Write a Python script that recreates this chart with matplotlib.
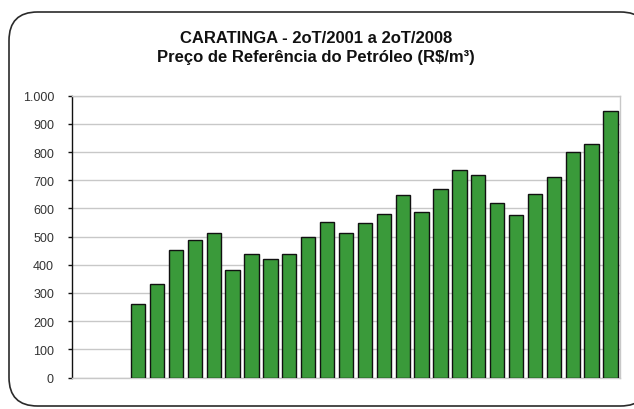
import matplotlib
matplotlib.use("Agg")
import matplotlib.pyplot as plt
import numpy as np
from matplotlib.patches import FancyBboxPatch
from matplotlib.ticker import FuncFormatter

# quarters 2oT/2001 .. 2oT/2008 (first three without production)
quarters = [f"{q}oT/{y}" for y in range(2001, 2009) for q in range(1, 5)][1:30]
prices = [np.nan, np.nan, np.nan,
          260, 332, 452, 487, 514, 381, 437, 419, 437, 497, 552, 514, 547,
          580, 646, 586, 669, 736, 719, 619, 575, 652, 713, 801, 828, 945]
y_ticks = list(range(0, 1001, 100))

title = "CARATINGA - 2oT/2001 a 2oT/2008\nPreço de Referência do Petróleo (R$/m³)"

plt.rcParams['font.family'] = ['Liberation Sans', 'DejaVu Sans']

fig = plt.figure(figsize=(6.34, 4.10), dpi=100)

# rounded frame around the chart
frame = FancyBboxPatch((9 / 634, 3 / 410), 640 / 634, 394 / 410,
                       boxstyle="round,pad=0,rounding_size=0.045",
                       transform=fig.transFigure, facecolor='white',
                       edgecolor='#2a2a2a', linewidth=1.2, zorder=-1,
                       mutation_aspect=634 / 410)
fig.patches.append(frame)

ax = fig.add_axes([72 / 634, 1 - 378.5 / 410, 548 / 634, 281.8 / 410])
ax.set_facecolor('none')

x = np.arange(len(quarters))
ax.bar(x, prices, width=0.76, color='#3a9a3a', edgecolor='#111111',
       linewidth=1.0, zorder=3)

ax.set_xlim(-0.5, len(quarters) - 0.5)
ax.set_ylim(0, 1000)
ax.set_yticks(y_ticks)
ax.yaxis.set_major_formatter(FuncFormatter(lambda v, p: f"{int(v):,}".replace(",", ".")))
ax.set_xticks([])

ax.grid(axis='y', color='#c8c8c8', linewidth=1.0, zorder=0)
ax.tick_params(axis='y', direction='out', length=3, width=1.0, pad=10,
               labelsize=9, labelcolor='#333333', color='#111111')

ax.spines['left'].set_color('#111111')
ax.spines['left'].set_linewidth(1.0)
for s in ['top', 'right', 'bottom']:
    ax.spines[s].set_color('#c8c8c8')
    ax.spines[s].set_linewidth(1.0)

fig.text(316 / 634, 1 - 48 / 410, title, ha='center', va='center',
         fontsize=12, fontweight='bold', color='#111111', linespacing=1.35)

fig.savefig("out.png", dpi=100)
